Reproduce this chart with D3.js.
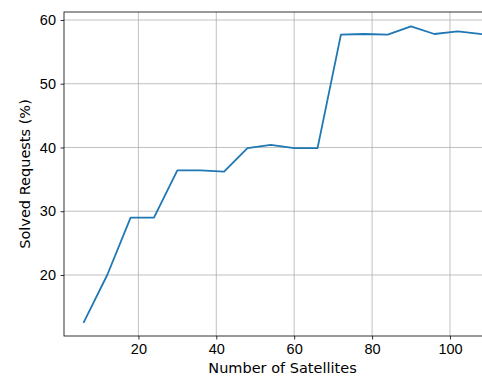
<!DOCTYPE html>
<html>
<head>
<meta charset="utf-8">
<script src="https://cdn.jsdelivr.net/npm/d3@7"></script>
<style>
  body { margin: 0; background: #fff; }
  svg { display: block; font-family: "DejaVu Sans", sans-serif; }
  .grid line { stroke: #b0b0b0; stroke-width: 0.8px; }
  .axis path { display: none; }
  .axis line { stroke: #000; stroke-width: 0.8px; }
  .axis text { font-size: 14.5px; fill: #000; }
  .axis-label { font-size: 14.5px; fill: #000; }
</style>
</head>
<body>
<svg width="482" height="376"></svg>
<script>
// data
var satellites = [6, 12, 18, 24, 30, 36, 42, 48, 54, 60, 66, 72, 78, 84, 90, 96, 102, 108];
var solved = [12.6, 20.0, 29.0, 29.0, 36.4, 36.4, 36.2, 39.9, 40.4, 39.9, 39.9, 57.7, 57.8, 57.7, 59.0, 57.8, 58.2, 57.8];
var xTicks = [20, 40, 60, 80, 100];
var yTicks = [20, 30, 40, 50, 60];

var svg = d3.select("svg"),
    margin = {top: 12, left: 64},
    plotRight = 501,  // right spine falls outside the crop
    plotBottom = 336;

var data = satellites.map(function(d, i) { return {n: d, v: solved[i]}; });

// scales (matplotlib style 5% margins)
var x = d3.scaleLinear().domain([0.9, 113.1]).range([margin.left, plotRight]);
var y = d3.scaleLinear().domain([10.43, 61.25]).range([plotBottom, margin.top]);

// grid
var grid = svg.append("g").attr("class", "grid");
grid.selectAll("line.gx")
    .data(xTicks)
  .enter().append("line")
    .attr("class", "gx")
    .attr("x1", function(d) { return x(d); })
    .attr("x2", function(d) { return x(d); })
    .attr("y1", margin.top)
    .attr("y2", plotBottom);
grid.selectAll("line.gy")
    .data(yTicks)
  .enter().append("line")
    .attr("class", "gy")
    .attr("x1", margin.left)
    .attr("x2", plotRight)
    .attr("y1", function(d) { return y(d); })
    .attr("y2", function(d) { return y(d); });

// the line
var line = d3.line()
    .x(function(d) { return x(d.n); })
    .y(function(d) { return y(d.v); });

svg.append("path")
    .datum(data)
    .attr("fill", "none")
    .attr("stroke", "#1f77b4")
    .attr("stroke-width", 1.8)
    .attr("stroke-linejoin", "round")
    .attr("stroke-linecap", "square")
    .attr("d", line);

// frame
svg.append("rect")
    .attr("x", margin.left)
    .attr("y", margin.top)
    .attr("width", plotRight - margin.left)
    .attr("height", plotBottom - margin.top)
    .attr("fill", "none")
    .attr("stroke", "#000")
    .attr("stroke-width", 0.8);

// axes
svg.append("g")
    .attr("class", "x axis")
    .attr("transform", "translate(0," + plotBottom + ")")
    .call(d3.axisBottom(x).tickValues(xTicks).tickSize(3.5).tickPadding(4.5));

svg.append("g")
    .attr("class", "y axis")
    .attr("transform", "translate(" + margin.left + ",0)")
    .call(d3.axisLeft(y).tickValues(yTicks).tickSize(3.5).tickPadding(4.5));

// labels
svg.append("text")
    .attr("class", "axis-label")
    .attr("x", (margin.left + plotRight) / 2)
    .attr("y", 373)
    .attr("text-anchor", "middle")
    .text("Number of Satellites");

svg.append("text")
    .attr("class", "axis-label")
    .attr("transform", "translate(29.5," + (margin.top + plotBottom) / 2 + ") rotate(-90)")
    .attr("text-anchor", "middle")
    .text("Solved Requests (%)");
</script>
</body>
</html>
